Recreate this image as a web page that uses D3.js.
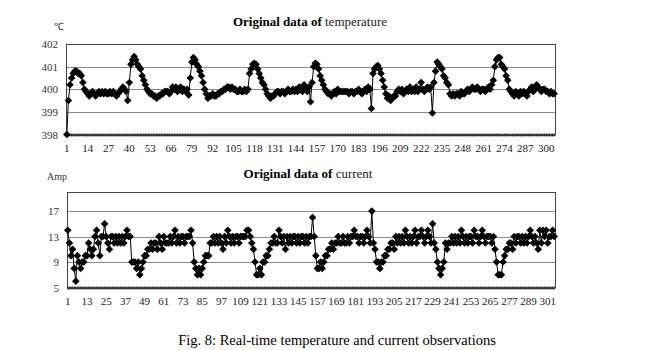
<!DOCTYPE html>
<html>
<head>
<meta charset="utf-8">
<script src="https://cdn.jsdelivr.net/npm/d3@7"></script>
<style>
  body { margin: 0; background: #fff; }
  svg { font-family: "Liberation Serif", "Times New Roman", serif; }
</style>
</head>
<body>
<svg id="chart" width="663" height="350"></svg>
<script>
// temperature readings, one per sample (1..305)
const temperature = [
  398.0, 399.5, 400.2, 400.5, 400.7, 400.8, 400.8, 400.7, 400.7, 400.6,
  400.3, 400.0, 399.9, 399.8, 399.7, 399.8, 399.9, 399.8, 399.7, 399.8,
  399.9, 399.8, 399.9, 399.8, 399.9, 399.8, 399.8, 399.9, 399.8, 399.9,
  399.8, 399.7, 399.8, 399.9, 400.0, 400.1, 400.0, 399.9, 399.5, 400.3,
  401.1, 401.3, 401.45, 401.3, 401.1, 401.0, 400.9, 400.6, 400.4, 400.2,
  400.0, 399.9, 399.8, 399.8, 399.7, 399.7, 399.6, 399.7, 399.7, 399.8,
  399.8, 399.9, 399.9, 399.9, 399.8, 399.9, 400.1, 400.0, 400.1, 399.9,
  400.0, 400.1, 399.9, 400.0, 399.9, 400.0, 399.75, 400.5, 401.2, 401.4,
  401.3, 401.1, 401.0, 400.8, 400.6, 400.3, 400.0, 399.8, 399.6, 399.7,
  399.7, 399.8, 399.7, 399.7, 399.8, 399.8, 399.9, 399.9, 400.0, 400.0,
  400.1, 400.1, 400.0, 400.1, 400.0, 400.0, 399.9, 399.9, 400.0, 399.9,
  399.9, 400.0, 399.9, 400.0, 400.7, 400.9, 401.1, 401.15, 401.1, 400.9,
  400.7, 400.5, 400.3, 400.2, 400.0, 399.8, 399.7, 399.6, 399.7, 399.7,
  399.8, 399.9, 399.9, 399.8, 399.9, 399.9, 399.8, 399.9, 400.0, 399.9,
  399.9, 400.0, 399.9, 400.0, 399.9, 400.1, 400.0, 399.9, 400.2, 400.0,
  399.9, 400.1, 399.45, 400.3, 401.0, 401.15, 401.1, 400.9, 400.6, 400.4,
  400.2, 400.0, 399.9, 399.8, 399.8, 399.7, 399.8, 399.9, 399.8, 400.0,
  399.9, 399.9, 399.9, 399.9, 399.9, 399.9, 399.8, 399.9, 399.9, 399.8,
  399.9, 399.9, 400.0, 399.9, 399.8, 399.9, 400.0, 399.9, 400.1, 400.0,
  399.15, 400.7, 400.9, 401.0, 401.05, 400.9, 400.7, 400.4, 400.1, 399.8,
  399.6, 399.7, 399.5, 399.6, 399.7, 399.7, 399.9, 400.0, 399.9, 400.0,
  399.8, 399.9, 400.0, 399.9, 400.1, 399.9, 400.0, 399.9, 400.1, 399.9,
  400.0, 400.3, 400.0, 399.9, 400.0, 400.1, 400.0, 400.1, 398.95, 400.3,
  400.8, 401.2, 401.1, 401.0, 400.9, 400.6, 400.5, 400.3, 400.2, 399.8,
  399.7, 399.8, 399.7, 399.8, 399.8, 399.7, 399.9, 399.8, 399.8, 399.9,
  400.0, 399.9, 400.0, 400.1, 400.0, 400.0, 400.1, 400.0, 399.9, 400.0,
  400.0, 399.9, 400.0, 400.1, 400.0, 400.2, 400.4, 401.0, 401.3, 401.4,
  401.4, 401.1, 401.0, 400.9, 400.6, 400.4, 400.0, 399.9, 399.8, 399.7,
  399.9, 399.8, 399.7, 399.9, 399.8, 399.9, 399.8, 399.7, 399.9, 400.0,
  400.1, 399.9, 400.0, 400.2, 400.1, 400.0, 399.9, 400.0, 400.0, 399.9,
  399.9, 399.8, 399.9, 399.8, 399.8
];

// current readings in Amp, one per sample (1..305)
const current = [
  14, 12, 10, 11, 8, 6, 10, 9, 8, 9,
  9, 10, 10, 12, 11, 10, 11, 13, 14, 12,
  10, 13, 13, 15, 13, 12, 11, 13, 13, 12,
  13, 12, 13, 12, 13, 12, 13, 14, 13, 13,
  9, 9, 9, 8, 9, 7, 8, 9, 10, 10,
  11, 11, 12, 11, 12, 12, 11, 13, 12, 11,
  13, 12, 12, 12, 13, 12, 13, 14, 12, 13,
  12, 13, 13, 12, 13, 13, 13, 14, 12, 9,
  8, 7, 8, 7, 8, 9, 10, 10, 10, 12,
  12, 13, 12, 13, 12, 13, 12, 11, 13, 12,
  14, 13, 12, 13, 12, 13, 13, 12, 13, 13,
  13, 13, 14, 14, 13, 12, 11, 9, 7, 7,
  8, 7, 9, 9, 10, 10, 11, 12, 12, 13,
  12, 12, 14, 13, 12, 13, 11, 13, 12, 13,
  12, 13, 13, 12, 13, 12, 13, 13, 12, 13,
  12, 13, 13, 16, 13, 10, 8, 8, 9, 8,
  9, 10, 10, 11, 11, 12, 11, 12, 12, 13,
  12, 12, 13, 12, 12, 13, 12, 13, 13, 14,
  13, 13, 12, 13, 13, 12, 13, 14, 13, 12,
  17, 12, 11, 9, 9, 8, 9, 9, 10, 10,
  11, 11, 12, 12, 11, 13, 12, 13, 12, 13,
  12, 14, 13, 12, 13, 12, 13, 14, 12, 13,
  13, 14, 13, 12, 13, 14, 13, 12, 15, 12,
  11, 9, 8, 7, 8, 9, 12, 11, 12, 12,
  13, 12, 13, 12, 13, 12, 14, 13, 12, 13,
  12, 13, 13, 12, 14, 13, 13, 12, 13, 14,
  13, 12, 13, 13, 13, 12, 13, 11, 9, 7,
  7, 7, 9, 10, 11, 11, 12, 12, 11, 13,
  12, 13, 13, 12, 13, 12, 13, 12, 13, 14,
  13, 12, 13, 12, 11, 14, 12, 14, 13, 14,
  12, 13, 13, 14, 13
];

const temperatureTicks = [398, 399, 400, 401, 402];
const currentTicks = [5, 9, 13, 17];

const FONT_SERIF = '"Liberation Serif", "Times New Roman", serif';
const DIAMOND = "M0,-3.8L3.8,0L0,3.8L-3.8,0Z";

const PANELS = [
  {
    values: temperature,
    domain: [398, 402],
    ticks: temperatureTicks,
    labelStep: 13,
    box: { left: 66, right: 555, top: 44, bottom: 134.5 },
    title: ["Original data of ", "temperature"],
    titleX: 310,
    titleY: 26,
    unit: "\u2103",
    unitX: 59,
    unitY: 30,
  },
  {
    values: current,
    domain: [5, 20],
    ticks: currentTicks,
    labelStep: 12,
    box: { left: 67, right: 555, top: 192, bottom: 287.5 },
    title: ["Original data of ", "current"],
    titleX: 308,
    titleY: 178,
    unit: "Amp",
    unitX: 57,
    unitY: 180,
  },
];

const svg = d3.select("#chart");

const initializeScales = (values, domain, box) =>
  Object({
    x: d3
      .scaleBand()
      .domain(d3.range(1, values.length + 1))
      .range([box.left, box.right]),
    y: d3.scaleLinear().domain(domain).range([box.bottom, box.top]),
  });

const createGrid = (g, y, ticks, box) => {
  g.append("g")
    .selectAll("line")
    .data(ticks)
    .join("line")
    .attr("x1", box.left)
    .attr("x2", box.right)
    .attr("y1", (d) => Math.round(y(d)) + 0.5)
    .attr("y2", (d) => Math.round(y(d)) + 0.5)
    .attr("stroke", "#8a8a8a")
    .attr("stroke-width", 1);

  g.append("rect")
    .attr("x", box.left + 0.5)
    .attr("y", box.top + 0.5)
    .attr("width", box.right - box.left)
    .attr("height", box.bottom - box.top)
    .attr("fill", "none")
    .attr("stroke", "#444")
    .attr("stroke-width", 1);
};

const createAxes = (g, x, y, ticks, labelStep, box) => {
  // dense category ticks along the bottom
  g.append("g")
    .attr("transform", `translate(0, ${box.bottom - 1})`)
    .call(d3.axisBottom(x).tickSize(3).tickFormat(""))
    .call((a) => a.select(".domain").remove())
    .selectAll("line")
    .attr("stroke", "#333");

  g.append("line")
    .attr("x1", box.left)
    .attr("x2", box.right)
    .attr("y1", box.bottom + 0.5)
    .attr("y2", box.bottom + 0.5)
    .attr("stroke", "#222");

  const labelValues = x.domain().filter((d) => (d - 1) % labelStep === 0);
  g.append("g")
    .attr("transform", `translate(0, ${box.bottom + 3})`)
    .call(d3.axisBottom(x).tickValues(labelValues).tickSize(0).tickPadding(7))
    .call((a) => a.select(".domain").remove())
    .selectAll("text")
    .attr("fill", "#222")
    .style("font-family", FONT_SERIF)
    .style("font-size", "11px");

  g.append("g")
    .attr("transform", `translate(${box.left - 8}, 0)`)
    .call(
      d3.axisLeft(y).tickValues(ticks).tickFormat(d3.format("d")).tickSize(0).tickPadding(0)
    )
    .call((a) => a.select(".domain").remove())
    .selectAll("text")
    .attr("fill", "#333")
    .style("font-family", FONT_SERIF)
    .style("font-size", "11px");
};

const createSeries = (g, x, y, values) => {
  const points = values.map((v, i) => ({ i: i + 1, v }));
  const line = d3
    .line()
    .x((d) => x(d.i) + x.bandwidth() / 2)
    .y((d) => y(d.v));

  g.append("path")
    .datum(points)
    .attr("d", line)
    .attr("fill", "none")
    .attr("stroke", "#000")
    .attr("stroke-width", 1);

  g.append("g")
    .selectAll("path")
    .data(points)
    .join("path")
    .attr("d", DIAMOND)
    .attr("transform", (d) => `translate(${x(d.i) + x.bandwidth() / 2}, ${y(d.v)})`)
    .attr("fill", "#000");
};

const createTitles = (g, panel) => {
  const t = g
    .append("text")
    .attr("x", panel.titleX)
    .attr("y", panel.titleY)
    .attr("text-anchor", "middle")
    .style("font-family", FONT_SERIF)
    .style("font-size", "13px")
    .attr("fill", "#000");
  t.append("tspan").attr("font-weight", "bold").text(panel.title[0]);
  t.append("tspan").attr("fill", "#222").text(panel.title[1]);

  g.append("text")
    .attr("x", panel.unitX)
    .attr("y", panel.unitY)
    .attr("text-anchor", "middle")
    .style("font-family", FONT_SERIF)
    .style("font-size", "10px")
    .attr("fill", "#333")
    .text(panel.unit);
};

PANELS.forEach((panel) => {
  const g = svg.append("g");
  const { x, y } = initializeScales(panel.values, panel.domain, panel.box);
  createGrid(g, y, panel.ticks, panel.box);
  createAxes(g, x, y, panel.ticks, panel.labelStep, panel.box);
  createSeries(g, x, y, panel.values);
  createTitles(g, panel);
});

svg
  .append("text")
  .attr("x", 337)
  .attr("y", 345)
  .attr("text-anchor", "middle")
  .style("font-family", FONT_SERIF)
  .style("font-size", "14.5px")
  .attr("fill", "#000")
  .text("Fig. 8: Real-time temperature and current observations");
</script>
</body>
</html>
